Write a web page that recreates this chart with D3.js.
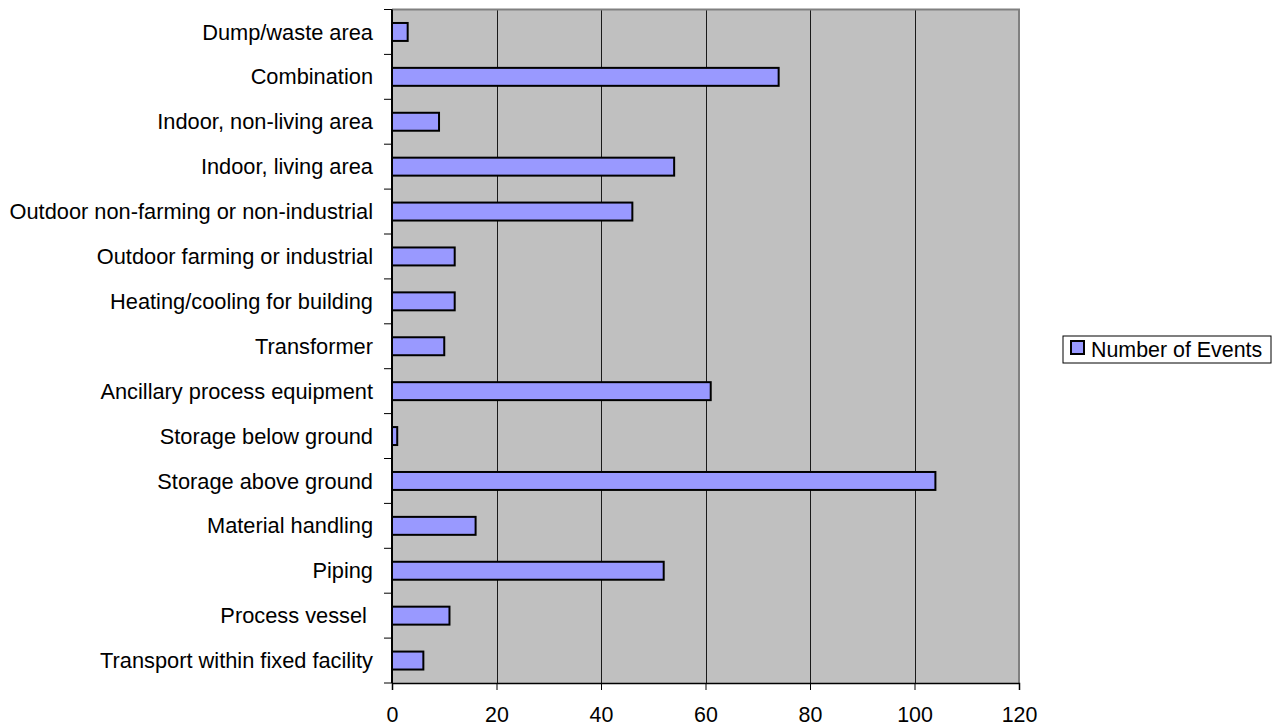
<!DOCTYPE html>
<html>
<head>
<meta charset="utf-8">
<script src="https://cdn.jsdelivr.net/npm/d3@7"></script>
<style>
  html, body { margin: 0; padding: 0; background: #ffffff; }
  svg { display: block; }
  text { font-family: "Liberation Sans", Arial, sans-serif; fill: #000; }
</style>
</head>
<body>
<svg id="chart" width="1282" height="727"></svg>
<script>
// Fire/release event locations, listed top to bottom as drawn
const categories = [
  "Dump/waste area",
  "Combination",
  "Indoor, non-living area",
  "Indoor, living area",
  "Outdoor non-farming or non-industrial",
  "Outdoor farming or industrial",
  "Heating/cooling for building",
  "Transformer",
  "Ancillary process equipment",
  "Storage below ground",
  "Storage above ground",
  "Material handling",
  "Piping",
  "Process vessel ",
  "Transport within fixed facility"
];
const eventCounts = [3, 74, 9, 54, 46, 12, 12, 10, 61, 1, 104, 16, 52, 11, 6];
const xTicks = [0, 20, 40, 60, 80, 100, 120];
const seriesName = "Number of Events";

const svg = d3.select("#chart");
const fontSize = 21.4;
const catFontSize = 21.8;

const plot = { left: 392, right: 1019, top: 9.5, bottom: 683 };

const x = d3.scaleLinear().domain([0, 120]).range([plot.left, plot.right]);
const y = d3.scaleBand().domain(categories).range([plot.top, plot.bottom])
  .paddingInner(0.6).paddingOuter(0.3);
const step = y.step();

// Plot background
svg.append("rect")
  .attr("x", plot.left).attr("y", plot.top)
  .attr("width", plot.right - plot.left).attr("height", plot.bottom - plot.top)
  .attr("fill", "#c0c0c0");

// Vertical gridlines
svg.append("g")
  .selectAll("line")
  .data(xTicks.filter(t => t > 0 && t < 120))
  .join("line")
  .attr("x1", d => Math.round(x(d)) + 0.5).attr("x2", d => Math.round(x(d)) + 0.5)
  .attr("y1", plot.top).attr("y2", plot.bottom)
  .attr("stroke", "#1a1a1a").attr("stroke-width", 1);

// Top and right frame of the plot area
svg.append("path")
  .attr("d", `M${plot.left},${plot.top} H${plot.right} V${plot.bottom}`)
  .attr("fill", "none").attr("stroke", "#808080").attr("stroke-width", 2);

// Bars
svg.append("g")
  .selectAll("rect")
  .data(categories.map((c, i) => ({ c, v: eventCounts[i] })))
  .join("rect")
  .attr("x", x(0))
  .attr("y", d => y(d.c))
  .attr("width", d => x(d.v) - x(0))
  .attr("height", y.bandwidth())
  .attr("fill", "#9999ff")
  .attr("stroke", "#000")
  .attr("stroke-width", 2);

// X axis
const xAxis = svg.append("g")
  .attr("transform", `translate(0,${plot.bottom})`)
  .call(d3.axisBottom(x).tickValues(xTicks).tickSize(7).tickPadding(17).tickFormat(d3.format("d")));
xAxis.select(".domain").attr("stroke", "#000").attr("stroke-width", 1.5);
xAxis.selectAll(".tick line").attr("stroke", "#000");
xAxis.selectAll(".tick text")
  .style("font-size", fontSize + "px")
  .style("font-family", '"Liberation Sans", Arial, sans-serif');

// Y axis: ticks sit on category boundaries, labels centred in each band
const yAxisG = svg.append("g");
yAxisG.append("line")
  .attr("x1", plot.left).attr("x2", plot.left)
  .attr("y1", plot.top).attr("y2", plot.bottom)
  .attr("stroke", "#000").attr("stroke-width", 2);
const boundaries = d3.range(categories.length + 1).map(i => plot.top + i * step);
yAxisG.selectAll("line.tick")
  .data(boundaries)
  .join("line")
  .attr("class", "tick")
  .attr("x1", plot.left - 8).attr("x2", plot.left)
  .attr("y1", d => d).attr("y2", d => d)
  .attr("stroke", "#000").attr("stroke-width", 1);
yAxisG.selectAll("text")
  .data(categories)
  .join("text")
  .attr("x", 373)
  .attr("y", d => y(d) + y.bandwidth() / 2)
  .attr("dy", "0.35em")
  .attr("text-anchor", "end")
  .attr("xml:space", "preserve")
  .style("white-space", "pre")
  .style("font-size", catFontSize + "px")
  .text(d => d);

// Legend
const legend = svg.append("g");
legend.append("rect")
  .attr("x", 1063).attr("y", 336)
  .attr("width", 208).attr("height", 27)
  .attr("fill", "#fff").attr("stroke", "#000").attr("stroke-width", 1);
legend.append("rect")
  .attr("x", 1071).attr("y", 341)
  .attr("width", 13).attr("height", 13)
  .attr("fill", "#9999ff").attr("stroke", "#000").attr("stroke-width", 2);
legend.append("text")
  .attr("x", 1091).attr("y", 349.5)
  .attr("dy", "0.35em")
  .style("font-size", fontSize + "px")
  .text(seriesName);
</script>
</body>
</html>
